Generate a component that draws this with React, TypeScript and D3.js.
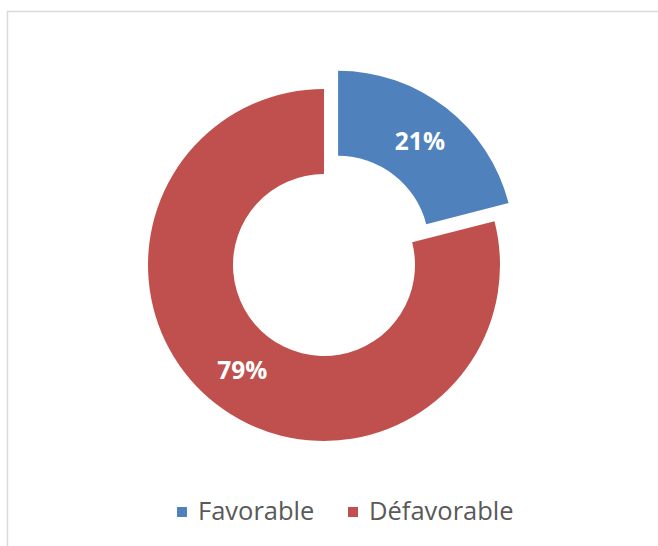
import React from "react";
import * as d3 from "d3";

const categories = ["Favorable", "Défavorable"];
const values = [21, 79];
const colors = ["#4F81BD", "#C0504D"];
const explode = [23, 0];

const W = 658;
const H = 546;
const cx = 324;
const cy = 265;
const outerR = 176;
const innerR = 91;

export default function App() {
  const pie = d3.pie<number>().sort(null).value((d) => d)(values);
  const arc = d3.arc<d3.PieArcDatum<number>>().innerRadius(innerR).outerRadius(outerR);
  const total = d3.sum(values);

  const legendItems = [
    { x: 177, label: categories[0], color: colors[0] },
    { x: 348, label: categories[1], color: colors[1] },
  ];

  return (
    <svg width={W} height={H} style={{ position: "absolute", left: 0, top: 0 }}>
      <rect x={0} y={0} width={W} height={H} fill="#fff" />
      <rect x={7.5} y={11.5} width={W + 10} height={H + 10} fill="none" stroke="#d9d9d9" strokeWidth={1.5} />
      <g transform={`translate(${cx},${cy})`}>
        {pie.map((p, i) => {
          const mid = (p.startAngle + p.endAngle) / 2;
          const dx = Math.sin(mid) * explode[i];
          const dy = -Math.cos(mid) * explode[i];
          const [lx, ly] = arc.centroid(p);
          return (
            <g key={i} transform={`translate(${dx},${dy})`}>
              <path d={arc(p) || ""} fill={colors[i]} />
              <text
                x={lx}
                y={ly}
                dy="0.36em"
                textAnchor="middle"
                fill="#fff"
                fontFamily="'Open Sans', sans-serif"
                fontWeight={700}
                fontSize={24.5}
              >
                {Math.round((values[i] / total) * 100)}%
              </text>
            </g>
          );
        })}
      </g>
      {legendItems.map((it, i) => (
        <g key={i}>
          <rect x={it.x} y={507} width={10} height={10} fill={it.color} />
          <text
            x={it.x + 21}
            y={519.5}
            fill="#595959"
            fontFamily="'Open Sans', sans-serif"
            fontSize={25.5}
          >
            {it.label}
          </text>
        </g>
      ))}
    </svg>
  );
}
